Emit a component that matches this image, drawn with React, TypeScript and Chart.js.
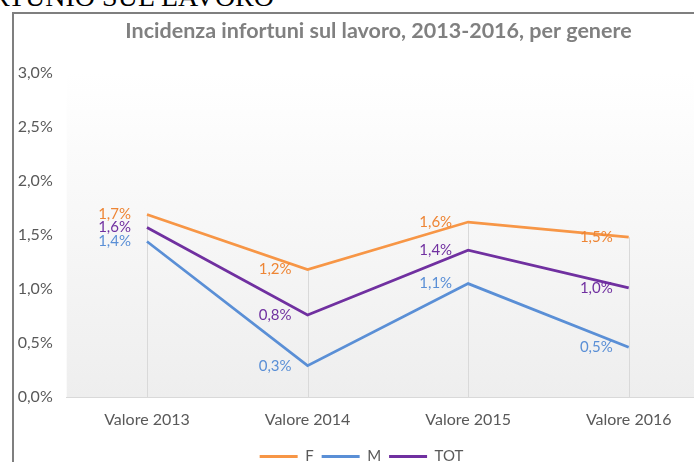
import React, { useEffect, useRef } from "react";
import { Chart, registerables } from "chart.js";

Chart.register(...registerables);

const pageHeading = "RTUNIO SUL LAVORO";
const chartTitle = "Incidenza infortuni sul lavoro, 2013-2016, per genere";
const categories = ["Valore 2013", "Valore 2014", "Valore 2015", "Valore 2016"];
const seriesNames = ["F", "M", "TOT"];
const valuesF = [1.69, 1.18, 1.62, 1.48];
const valuesM = [1.44, 0.29, 1.05, 0.46];
const valuesTOT = [1.57, 0.76, 1.36, 1.01];
const lineColors = ["#F79646", "#5A8FD6", "#7030A0"];
const labelColors = ["#EE8534", "#5A8FD6", "#7030A0"];
const yMin = 0;
const yMax = 3;
const yStep = 0.5;

const fmt = (v: number) => v.toFixed(1).replace(".", ",") + "%";

const shiftPlugin = {
  id: "shiftBlocks",
  afterLayout(chart: any) {
    const t = chart.titleBlock;
    if (t) {
      t.left += 17;
      t.right += 17;
    }
  },
};

const backgroundPlugin = {
  id: "plotBg",
  beforeDraw(chart: any) {
    const { ctx, chartArea } = chart;
    const g = ctx.createLinearGradient(0, chartArea.top, 0, chartArea.bottom);
    g.addColorStop(0, "#ffffff");
    g.addColorStop(1, "#eeeeee");
    ctx.save();
    ctx.fillStyle = g;
    ctx.fillRect(chartArea.left, chartArea.top, chartArea.right - chartArea.left, chartArea.bottom - chartArea.top);
    ctx.restore();
  },
};

const dropLinesPlugin = {
  id: "dropLines",
  beforeDatasetsDraw(chart: any) {
    const { ctx, chartArea } = chart;
    const metas = chart.data.datasets.map((_: any, i: number) => chart.getDatasetMeta(i));
    ctx.save();
    ctx.strokeStyle = "#d9d9d9";
    ctx.lineWidth = 1;
    for (let i = 0; i < categories.length; i++) {
      let minY = Infinity;
      let x = 0;
      metas.forEach((m: any) => {
        const p = m.data[i];
        if (p && p.y < minY) {
          minY = p.y;
          x = p.x;
        }
      });
      const xx = Math.round(x) + 0.5;
      ctx.beginPath();
      ctx.moveTo(xx, minY);
      ctx.lineTo(xx, chartArea.bottom);
      ctx.stroke();
    }
    ctx.restore();
  },
};

const labelsPlugin = {
  id: "pointLabels",
  afterDatasetsDraw(chart: any) {
    const { ctx } = chart;
    ctx.save();
    ctx.font = "15px Lato";
    ctx.textAlign = "right";
    ctx.textBaseline = "middle";
    chart.data.datasets.forEach((ds: any, di: number) => {
      const meta = chart.getDatasetMeta(di);
      meta.data.forEach((p: any, i: number) => {
        ctx.fillStyle = labelColors[di];
        ctx.fillText(fmt(ds.data[i]), p.x - 16, p.y);
      });
    });
    ctx.restore();
  },
};

function LineChart() {
  const ref = useRef<HTMLCanvasElement | null>(null);
  useEffect(() => {
    if (!ref.current) return;
    const allSeries = [valuesF, valuesM, valuesTOT];
    const chart = new Chart(ref.current, {
      type: "line",
      data: {
        labels: categories,
        datasets: allSeries.map((d, i) => ({
          label: seriesNames[i],
          data: d,
          borderColor: lineColors[i],
          backgroundColor: lineColors[i],
          borderWidth: 2.75,
          pointRadius: 0,
          tension: 0,
          fill: false,
        })),
      },
      options: {
        responsive: false,
        animation: false,
        devicePixelRatio: 1,
        layout: { padding: { left: 0, right: 3, top: 0, bottom: 0 } },
        plugins: {
          tooltip: { enabled: false },
          title: {
            display: true,
            text: chartTitle,
            color: "#808080",
            font: { family: "Lato", size: 21.5, weight: "bold", lineHeight: 1.2 },
            padding: { top: 4.1, bottom: 29.1 },
          },
          legend: {
            position: "bottom",
            labels: {
              color: "#595959",
              font: { family: "Lato", size: 15 },
              boxWidth: 38,
              boxHeight: 3,
              padding: 8,
              generateLabels: (c: any) =>
                c.data.datasets.map((ds: any, i: number) => ({
                  text: ds.label,
                  fillStyle: lineColors[i],
                  strokeStyle: lineColors[i],
                  lineWidth: 0,
                  fontColor: "#595959",
                  hidden: false,
                  datasetIndex: i,
                })),
            },
          },
        },
        scales: {
          x: {
            offset: true,
            grid: { display: false, drawTicks: false },
            border: { display: true, color: "#d9d9d9", width: 1 },
            ticks: { color: "#595959", font: { family: "Lato", size: 16 }, padding: 13, maxRotation: 0 },
            afterFit: (s: any) => {
              s.height = 44;
            },
          },
          y: {
            min: yMin,
            max: yMax,
            grid: { display: false, drawTicks: false },
            border: { display: false },
            ticks: {
              stepSize: yStep,
              color: "#595959",
              font: { family: "Lato", size: 16 },
              padding: 14,
              callback: (v: any) => fmt(Number(v)),
            },
            afterFit: (s: any) => {
              s.width = 52.7;
            },
          },
        },
      },
      plugins: [shiftPlugin, backgroundPlugin, dropLinesPlugin, labelsPlugin],
    });
    return () => chart.destroy();
  }, []);
  return <canvas ref={ref} width={698} height={460} style={{ width: 698, height: 460, display: "block" }} />;
}

export default function App() {
  return (
    <div
      style={{
        position: "fixed",
        left: 0,
        top: 0,
        width: 694,
        height: 462,
        overflow: "hidden",
        background: "#ffffff",
      }}
    >
      <div
        style={{
          position: "absolute",
          left: -9,
          top: -17,
          fontFamily: "'Liberation Serif', 'Times New Roman', serif",
          fontSize: 28,
          lineHeight: "28px",
          whiteSpace: "nowrap",
          color: "#000",
        }}
      >
        {pageHeading}
      </div>
      <div
        style={{
          position: "absolute",
          left: 12,
          top: 12,
          width: 760,
          height: 500,
          borderLeft: "2px solid #7f7f7f",
          borderTop: "2px solid #7f7f7f",
          background: "#ffffff",
        }}
      >
        <LineChart />
      </div>
    </div>
  );
}
